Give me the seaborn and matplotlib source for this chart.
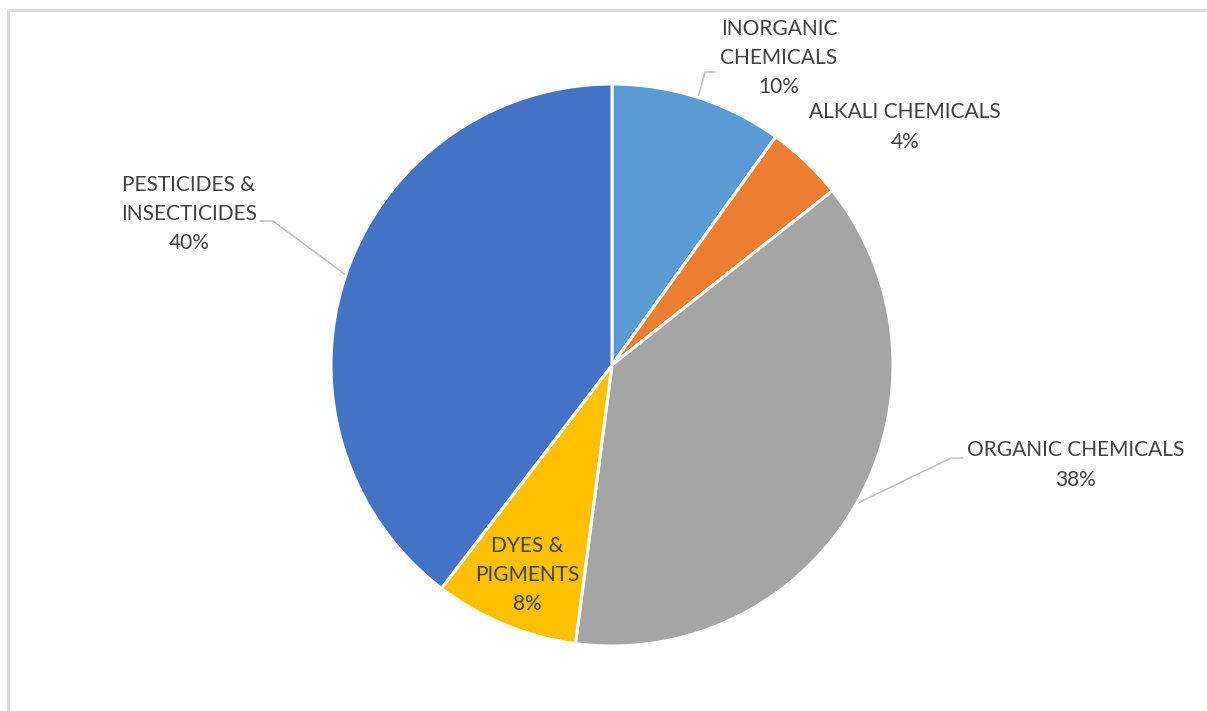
import numpy as np
import matplotlib
matplotlib.use("Agg")
import matplotlib.pyplot as plt
import seaborn as sns

# chemical sector shares
sectors = ["INORGANIC\nCHEMICALS", "ALKALI CHEMICALS", "ORGANIC CHEMICALS",
           "DYES &\nPIGMENTS", "PESTICIDES &\nINSECTICIDES"]
shares = [9.9, 4.45, 37.7, 8.3, 39.6]
colors = ["#5B9BD5", "#ED7D31", "#A5A5A5", "#FFC000", "#4472C4"]

sns.set_style("white")
plt.rcParams['font.family'] = ['Lato', 'DejaVu Sans']

fig = plt.figure(figsize=(12.07, 7.11), dpi=100)
ax = fig.add_axes([0, 0, 1, 1])
ax.set_xlim(0, 1207)
ax.set_ylim(0, 711)
ax.set_aspect('equal')
ax.axis('off')

cx, cy, r = 612, 711 - 365, 281
wedges, _ = ax.pie(shares, colors=colors, startangle=90, counterclock=False,
                   center=(cx, cy), radius=r,
                   wedgeprops=dict(edgecolor="white", linewidth=2.2))
ax.set_xlim(0, 1207)
ax.set_ylim(0, 711)

# label placement (pixel centres from top-left) and leader elbows
label_pos = [(779, 58), (905, 127), (1076, 465), (527, 575), (189, 214)]
elbows = [[(715, 72), (705, 72)], None, [(963, 458), (951, 458)], None,
          [(260, 221), (273, 221)]]

total = sum(shares)
for w, lab, v, pos, elb in zip(wedges, sectors, shares, label_pos, elbows):
    txt = f"{lab}\n{v / total * 100:.0f}%"
    ax.text(pos[0], 711 - pos[1], txt, ha='center', va='center',
            fontsize=15, color="#404040", linespacing=1.58)
    if elb is not None:
        mid = np.deg2rad((w.theta1 + w.theta2) / 2)
        ex, ey = cx + r * np.cos(mid), cy + r * np.sin(mid)
        xs = [elb[0][0], elb[1][0], ex]
        ys = [711 - elb[0][1], 711 - elb[1][1], ey]
        ax.plot(xs, ys, color="#bfbfbf", lw=1.1, zorder=0.5)

# chart area border (left and top edges visible)
ax.plot([8, 8, 1207], [0, 711 - 10, 711 - 10], color="#d9d9d9", lw=2)

fig.savefig("out.png", dpi=100)
